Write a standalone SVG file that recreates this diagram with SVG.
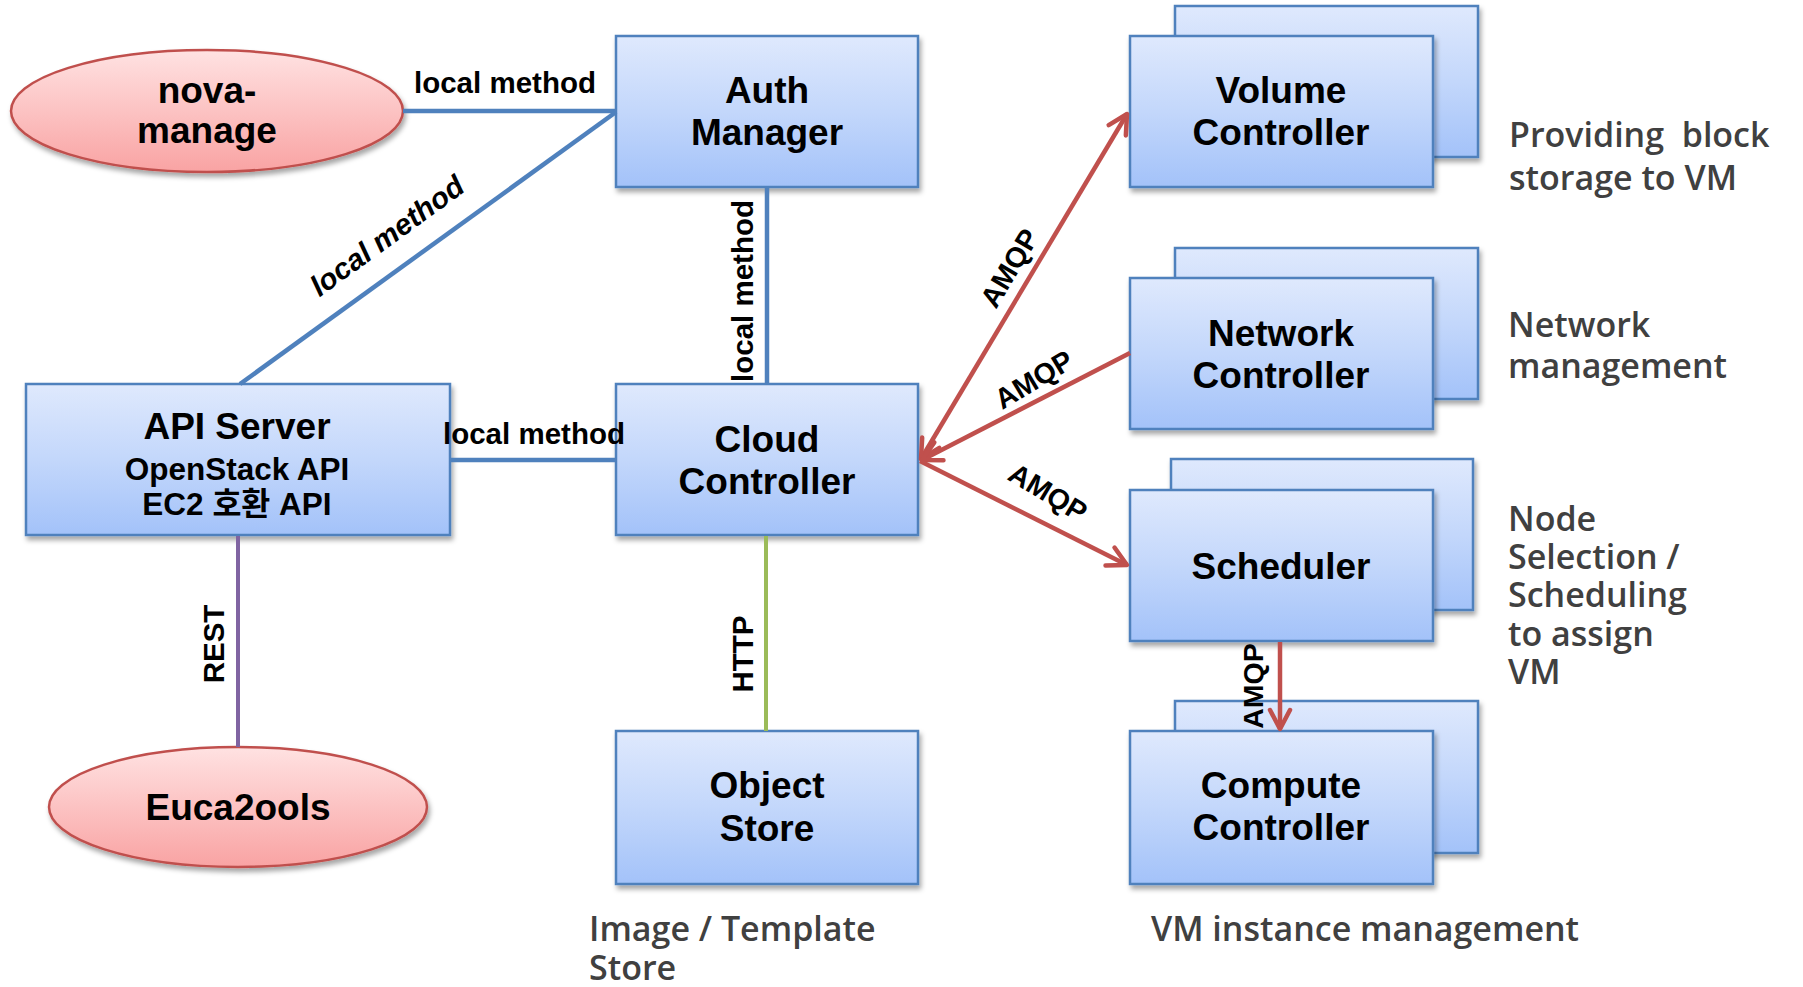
<svg xmlns="http://www.w3.org/2000/svg" width="1803" height="987" viewBox="0 0 1803 987">
  <defs>
    <linearGradient id="boxGrad" x1="0" y1="0" x2="0" y2="1">
      <stop offset="0" stop-color="#DFE9FD"/>
      <stop offset="0.5" stop-color="#C3D7FB"/>
      <stop offset="1" stop-color="#A3C2F9"/>
    </linearGradient>
    <linearGradient id="ellGrad" x1="0" y1="0" x2="0" y2="1">
      <stop offset="0" stop-color="#FFE2E2"/>
      <stop offset="1" stop-color="#F9A3A3"/>
    </linearGradient>
    <filter id="shadow" x="-10%" y="-10%" width="125%" height="130%">
      <feDropShadow dx="2" dy="4" stdDeviation="2.5" flood-color="#000" flood-opacity="0.35"/>
    </filter>
    <marker id="arrow" viewBox="-24 -13 28 26" markerWidth="28" markerHeight="26" refX="0" refY="0" orient="auto-start-reverse" markerUnits="userSpaceOnUse">
      <path d="M -19 -10 L 0 0 L -19 10" fill="none" stroke="#C0504D" stroke-width="4.5" stroke-linecap="round" stroke-linejoin="round"/>
    </marker>
    <style>
      .box { fill: url(#boxGrad); stroke: #4F81BD; stroke-width: 2.5; filter: url(#shadow); }
      .ell { fill: url(#ellGrad); stroke: #C0504D; stroke-width: 2.5; filter: url(#shadow); }
      .lbl { font-family: "Liberation Sans", Arial, sans-serif; font-weight: bold; font-size: 37px; fill: #000; text-anchor: middle; }
      .sub { font-family: "Liberation Sans", "Noto Sans CJK KR", sans-serif; font-weight: bold; font-size: 31.5px; fill: #000; text-anchor: middle; }
      .edge { font-family: "Liberation Sans", Arial, sans-serif; font-weight: bold; font-size: 29.5px; fill: #000; }
      .amqp { font-family: "Liberation Sans", Arial, sans-serif; font-weight: bold; font-size: 28.5px; fill: #000; text-anchor: middle; }
      .note { font-family: "Open Sans", "Noto Sans", sans-serif; font-weight: 600; font-size: 34px; fill: #404040; }
      .blue { stroke: #4F81BD; stroke-width: 4.5; fill: none; }
      .red { stroke: #C0504D; stroke-width: 4.5; fill: none; }
    </style>
  </defs>

  <g id="nova-manage">
    <ellipse class="ell" cx="207" cy="111" rx="196" ry="61"/>
    <text class="lbl" x="207" y="103">nova-</text>
    <text class="lbl" x="207" y="143">manage</text>
  </g>

  <g id="auth-manager">
    <rect class="box" x="616" y="36" width="302" height="151"/>
    <text class="lbl" x="767" y="103">Auth</text>
    <text class="lbl" x="767" y="145">Manager</text>
  </g>

  <g id="api-server">
    <rect class="box" x="26" y="384" width="424" height="151"/>
    <text class="lbl" x="237" y="439">API Server</text>
    <text class="sub" x="237" y="480">OpenStack API</text>
    <text class="sub" x="237" y="515">EC2 호환 API</text>
  </g>

  <g id="cloud-controller">
    <rect class="box" x="616" y="384" width="302" height="151"/>
    <text class="lbl" x="767" y="452">Cloud</text>
    <text class="lbl" x="767" y="494">Controller</text>
  </g>

  <g id="euca2ools">
    <ellipse class="ell" cx="238" cy="807" rx="189" ry="60"/>
    <text class="lbl" x="238" y="820">Euca2ools</text>
  </g>

  <g id="object-store">
    <rect class="box" x="616" y="731" width="302" height="153"/>
    <text class="lbl" x="767" y="798">Object</text>
    <text class="lbl" x="767" y="841">Store</text>
    <text class="note" x="589" y="941">Image / Template</text>
    <text class="note" x="589" y="980">Store</text>
  </g>

  <g id="volume-controller">
    <rect class="box" x="1175" y="6" width="303" height="151"/>
    <rect class="box" x="1130" y="36" width="303" height="151"/>
    <text class="lbl" x="1281" y="103">Volume</text>
    <text class="lbl" x="1281" y="145">Controller</text>
    <text class="note" x="1509" y="147" style="white-space:pre">Providing  block</text>
    <text class="note" x="1509" y="190">storage to VM</text>
  </g>

  <g id="network-controller">
    <rect class="box" x="1175" y="248" width="303" height="151"/>
    <rect class="box" x="1130" y="278" width="303" height="151"/>
    <text class="lbl" x="1281" y="346">Network</text>
    <text class="lbl" x="1281" y="388">Controller</text>
    <text class="note" x="1508" y="337">Network</text>
    <text class="note" x="1508" y="378">management</text>
  </g>

  <g id="scheduler">
    <rect class="box" x="1171" y="459" width="302" height="151"/>
    <rect class="box" x="1130" y="490" width="303" height="151"/>
    <text class="lbl" x="1281" y="579">Scheduler</text>
    <text class="note" x="1508" y="531">Node</text>
    <text class="note" x="1508" y="569">Selection /</text>
    <text class="note" x="1508" y="607">Scheduling</text>
    <text class="note" x="1508" y="646">to assign</text>
    <text class="note" x="1508" y="684">VM</text>
  </g>

  <g id="compute-controller">
    <rect class="box" x="1175" y="701" width="303" height="152"/>
    <rect class="box" x="1130" y="731" width="303" height="153"/>
    <text class="lbl" x="1281" y="798">Compute</text>
    <text class="lbl" x="1281" y="840">Controller</text>
    <text class="note" x="1151" y="941">VM instance management</text>
  </g>

  <g id="connectors">
    <line class="blue" x1="403" y1="111" x2="616" y2="111"/>
    <line class="blue" x1="616" y1="112" x2="240" y2="384"/>
    <line class="blue" x1="767" y1="187" x2="767" y2="384"/>
    <line class="blue" x1="450" y1="460" x2="616" y2="460"/>
    <line stroke="#8064A2" stroke-width="4" x1="238" y1="536" x2="238" y2="747"/>
    <line stroke="#9BBB59" stroke-width="4" x1="766" y1="536" x2="766" y2="731"/>
    <line class="red" x1="921" y1="459" x2="1127" y2="114" marker-start="url(#arrow)" marker-end="url(#arrow)"/>
    <line class="red" x1="1130" y1="353" x2="922" y2="460" marker-end="url(#arrow)"/>
    <line class="red" x1="920" y1="461" x2="1127" y2="565" marker-end="url(#arrow)"/>
    <line class="red" x1="1280" y1="642" x2="1280" y2="729" marker-end="url(#arrow)"/>

    <text class="edge" x="414" y="93">local method</text>
    <text class="edge" x="0" y="0" font-style="italic" text-anchor="middle" transform="translate(393,244) rotate(-36)">local method</text>
    <text class="edge" x="0" y="0" text-anchor="middle" transform="translate(753,291) rotate(-90)">local method</text>
    <text class="edge" x="443" y="444">local method</text>
    <text class="edge" x="0" y="0" text-anchor="middle" transform="translate(224,644) rotate(-90)">REST</text>
    <text class="edge" x="0" y="0" text-anchor="middle" transform="translate(753,654) rotate(-90)">HTTP</text>
    <text class="amqp" x="0" y="0" transform="translate(1018,273) rotate(-59)">AMQP</text>
    <text class="amqp" x="0" y="0" transform="translate(1039,388) rotate(-31)">AMQP</text>
    <text class="amqp" x="0" y="0" transform="translate(1043,501) rotate(31)">AMQP</text>
    <text class="amqp" x="0" y="0" transform="translate(1263,686) rotate(-90)">AMQP</text>
  </g>
</svg>
